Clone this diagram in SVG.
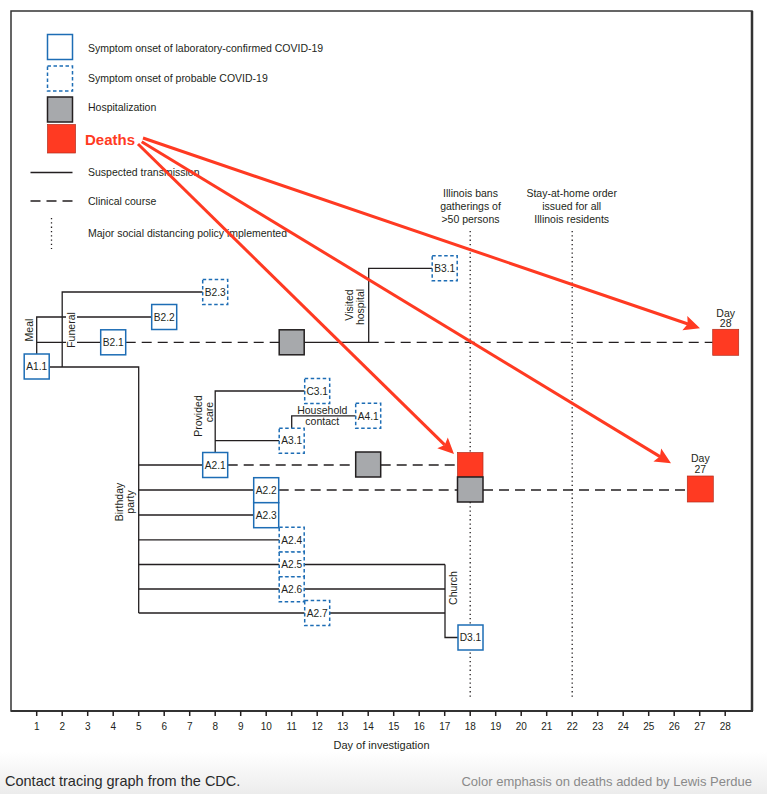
<svg xmlns="http://www.w3.org/2000/svg" width="767" height="794" viewBox="0 0 767 794">
<defs>
<linearGradient id="cap" x1="0" y1="0" x2="0" y2="1">
<stop offset="0" stop-color="#ffffff"/>
<stop offset="1" stop-color="#ececec"/>
</linearGradient>
<style>
text{font-family:"Liberation Sans",Arial,sans-serif;fill:#231f20}
.t{font-size:10.5px}
.n{font-size:10.2px;text-anchor:middle}
.m{text-anchor:middle}
.ln{stroke:#231f20;stroke-width:1.3;fill:none}
.ds{stroke:#231f20;stroke-width:1.3;fill:none;stroke-dasharray:10 6}
.dt{stroke:#231f20;stroke-width:1.3;fill:none;stroke-dasharray:1.3 3}
.cf{fill:#fff;stroke:#1d6db5;stroke-width:1.5}
.pr{fill:#fff;stroke:#1d6db5;stroke-width:1.5;stroke-dasharray:3.5 2.5}
.hs{fill:#a7a9ac;stroke:#231f20;stroke-width:1.5}
.de{fill:#ff3a22;stroke:#b32d1c;stroke-width:0.7}
.ar{stroke:#ff3a22;stroke-width:3;fill:none}
.ah{fill:#ff3a22}
</style>
</defs>
<rect x="0" y="0" width="767" height="794" fill="#fff"/>
<rect x="0" y="752" width="767" height="42" fill="url(#cap)"/>

<g id="frame">
<rect x="11" y="11" width="741" height="700" fill="none" stroke="#333" stroke-width="1.5"/>
<line x1="752" y1="11" x2="752" y2="711" stroke="#333" stroke-width="2.5"/>
<line x1="11" y1="711" x2="753" y2="711" stroke="#333" stroke-width="2"/>
</g>

<g id="legend">
<rect x="47.5" y="34.5" width="25" height="25" class="cf"/>
<text x="88" y="51.5" class="t">Symptom onset of laboratory-confirmed COVID-19</text>
<rect x="47.5" y="66" width="25" height="25" class="pr"/>
<text x="88" y="81.5" class="t">Symptom onset of probable COVID-19</text>
<rect x="47.5" y="97" width="25" height="25" class="hs"/>
<text x="88" y="111" class="t">Hospitalization</text>
<rect x="47.5" y="124.5" width="28" height="28.5" class="de"/>
<text x="85" y="145" style="font-size:15px;font-weight:bold;fill:#ff3a22">Deaths</text>
<line x1="30.5" y1="172.5" x2="72.5" y2="172.5" class="ln"/>
<text x="88" y="176" class="t">Suspected transmission</text>
<line x1="30.5" y1="201" x2="72.5" y2="201" class="ds"/>
<text x="88" y="204.5" class="t">Clinical course</text>
<line x1="51.5" y1="218" x2="51.5" y2="249" class="dt"/>
<text x="88" y="237" class="t">Major social distancing policy implemented</text>
</g>

<g id="connectors">
<path d="M36.7,354 V317 H151.7 M36.7,342.3 H100.7" class="ln"/>
<path d="M62.2,367 V292 H202.7 M49.2,367 H138.7 V613" class="ln"/>
<path d="M304.2,342.3 H368.7 V268.3 H432.2" class="ln"/>
<path d="M215.2,452.5 V391 H304.7 M215.2,440.7 H279.2" class="ln"/>
<path d="M291.7,428.2 V415.8 H355.7" class="ln"/>
<path d="M138.7,465 H202.7 M138.7,490 H253.7 M138.7,515 H253.7 M138.7,539.8 H279.2 M138.7,564.5 H279.2 M304.2,564.5 H445 M138.7,589 H279.2 M304.2,589 H445 M138.7,613 H304.7 M329.7,613 H445" class="ln"/>
<path d="M445,564.5 V637.5 H458" class="ln"/>
<path d="M125.7,342.3 H279.2 M368.7,342.3 H712.7" class="ds"/>
<path d="M227.7,465 H355.7 M380.7,465 H457.5" class="ds"/>
<path d="M278.7,490 H457.5 M483,490 H687.3" class="ds"/>
<line x1="470.2" y1="231" x2="470.2" y2="698" class="dt"/>
<line x1="572.2" y1="231" x2="572.2" y2="698" class="dt"/>
</g>

<g id="labels">
<rect x="66" y="311" width="11" height="38" fill="#fff"/>
<text transform="translate(29.5,330) rotate(-90)" y="3.6" class="t m">Meal</text>
<text transform="translate(71.5,330) rotate(-90)" y="3.6" class="t m">Funeral</text>
<text transform="translate(349.5,305) rotate(-90)" y="3.6" class="t m">Visited</text>
<text transform="translate(360.5,307) rotate(-90)" y="3.6" class="t m">hospital</text>
<text transform="translate(198.5,416) rotate(-90)" y="3.6" class="t m">Provided</text>
<text transform="translate(209.5,412) rotate(-90)" y="3.6" class="t m">care</text>
<text transform="translate(119.5,502) rotate(-90)" y="3.6" class="t m">Birthday</text>
<text transform="translate(130.5,502) rotate(-90)" y="3.6" class="t m">party</text>
<text transform="translate(453.5,588) rotate(-90)" y="3.6" class="t m">Church</text>
<text x="322.3" y="414" class="t m">Household</text>
<text x="322.3" y="425.3" class="t m">contact</text>
<text x="470.5" y="196.5" class="t m">Illinois bans</text>
<text x="470.5" y="209.5" class="t m">gatherings of</text>
<text x="470.5" y="223" class="t m">&gt;50 persons</text>
<text x="571.7" y="196.5" class="t m">Stay-at-home order</text>
<text x="571.7" y="209.5" class="t m">issued for all</text>
<text x="571.7" y="223" class="t m">Illinois residents</text>
<text x="725.7" y="316.5" class="t m">Day</text>
<text x="725.7" y="327" class="t m">28</text>
<text x="700.3" y="462" class="t m">Day</text>
<text x="700.3" y="472.5" class="t m">27</text>
</g>

<g id="A1.1"><rect x="24.2" y="354" width="25" height="25" class="cf"/><text x="36.7" y="370.2" class="n">A1.1</text></g>
<g id="B2.1"><rect x="100.7" y="329.8" width="25" height="25" class="cf"/><text x="113.2" y="346" class="n">B2.1</text></g>
<g id="B2.2"><rect x="151.7" y="304.5" width="25" height="25" class="cf"/><text x="164.2" y="320.7" class="n">B2.2</text></g>
<g id="B2.3"><rect x="202.7" y="279.5" width="25" height="25" class="pr"/><text x="215.2" y="295.7" class="n">B2.3</text></g>
<g id="hosp-B2.1"><rect x="279.2" y="329.8" width="25" height="25" class="hs"/></g>
<g id="B3.1"><rect x="432.2" y="255.8" width="25" height="25" class="pr"/><text x="444.7" y="272" class="n">B3.1</text></g>
<g id="death-B2.1"><rect x="712.7" y="329.3" width="26" height="26" class="de"/></g>
<g id="C3.1"><rect x="304.7" y="378.5" width="25" height="25" class="pr"/><text x="317.2" y="394.7" class="n">C3.1</text></g>
<g id="A4.1"><rect x="355.7" y="403.3" width="25" height="25" class="pr"/><text x="368.2" y="419.5" class="n">A4.1</text></g>
<g id="A3.1"><rect x="279.2" y="428.2" width="25" height="25" class="pr"/><text x="291.7" y="444.4" class="n">A3.1</text></g>
<g id="A2.1"><rect x="202.7" y="452.5" width="25" height="25" class="cf"/><text x="215.2" y="468.7" class="n">A2.1</text></g>
<g id="hosp-A2.1"><rect x="355.7" y="452" width="25" height="25" class="hs"/></g>
<g id="death-A2.1"><rect x="457.5" y="452.5" width="25.5" height="24.5" class="de"/></g>
<g id="hosp-A2.2"><rect x="457.5" y="477" width="25.5" height="25" class="hs"/></g>
<g id="A2.2"><rect x="253.7" y="477.7" width="25" height="25" class="cf"/><text x="266.2" y="493.9" class="n">A2.2</text></g>
<g id="A2.3"><rect x="253.7" y="502.7" width="25" height="25" class="cf"/><text x="266.2" y="518.9" class="n">A2.3</text></g>
<g id="A2.4"><rect x="279.2" y="527.3" width="25" height="25" class="pr"/><text x="291.7" y="543.5" class="n">A2.4</text></g>
<g id="A2.5"><rect x="279.2" y="552" width="25" height="25" class="pr"/><text x="291.7" y="568.2" class="n">A2.5</text></g>
<g id="A2.6"><rect x="279.2" y="576.7" width="25" height="25" class="pr"/><text x="291.7" y="592.9" class="n">A2.6</text></g>
<g id="A2.7"><rect x="304.7" y="600.5" width="25" height="25" class="pr"/><text x="317.2" y="616.7" class="n">A2.7</text></g>
<g id="D3.1"><rect x="458" y="625" width="25" height="25" class="cf"/><text x="470.5" y="641.2" class="n">D3.1</text></g>
<g id="death-A2.2"><rect x="687.3" y="476" width="26" height="26" class="de"/></g>

<g id="axis">
<path d="M36.7,711v5 M62.2,711v5 M87.7,711v5 M113.2,711v5 M138.7,711v5 M164.2,711v5 M189.7,711v5 M215.2,711v5 M240.7,711v5 M266.2,711v5 M291.7,711v5 M317.2,711v5 M342.7,711v5 M368.2,711v5 M393.7,711v5 M419.2,711v5 M444.7,711v5 M470.2,711v5 M495.7,711v5 M521.2,711v5 M546.7,711v5 M572.2,711v5 M597.7,711v5 M623.2,711v5 M648.7,711v5 M674.2,711v5 M699.7,711v5 M725.2,711v5" stroke="#231f20" stroke-width="1.5"/>
<g style="font-size:10px;text-anchor:middle">
<text x="36.7" y="730">1</text><text x="62.2" y="730">2</text><text x="87.7" y="730">3</text><text x="113.2" y="730">4</text><text x="138.7" y="730">5</text><text x="164.2" y="730">6</text><text x="189.7" y="730">7</text><text x="215.2" y="730">8</text><text x="240.7" y="730">9</text><text x="266.2" y="730">10</text><text x="291.7" y="730">11</text><text x="317.2" y="730">12</text><text x="342.7" y="730">13</text><text x="368.2" y="730">14</text><text x="393.7" y="730">15</text><text x="419.2" y="730">16</text><text x="444.7" y="730">17</text><text x="470.2" y="730">18</text><text x="495.7" y="730">19</text><text x="521.2" y="730">20</text><text x="546.7" y="730">21</text><text x="572.2" y="730">22</text><text x="597.7" y="730">23</text><text x="623.2" y="730">24</text><text x="648.7" y="730">25</text><text x="674.2" y="730">26</text><text x="699.7" y="730">27</text><text x="725.2" y="730">28</text>
</g>
<text x="381.5" y="749" class="m" style="font-size:11px">Day of investigation</text>
</g>

<g id="emphasis">
<line x1="143" y1="138" x2="688" y2="324" class="ar"/>
<polygon points="700,328.3 682.4,330.2 687.7,324.1 687.3,316" class="ah"/>
<line x1="141.7" y1="141.7" x2="660" y2="456.6" class="ar"/>
<polygon points="671,463.3 653.4,461.4 659.9,456.6 661.2,448.6" class="ah"/>
<line x1="138" y1="144" x2="444.7" y2="444.9" class="ar"/>
<polygon points="454,454 437.3,448.2 444.7,444.9 447.8,437.5" class="ah"/>
</g>

<g id="caption">
<text x="5" y="786" style="font-size:14.5px;fill:#2a2a2a">Contact tracing graph from the CDC.</text>
<text x="752" y="786" style="font-size:13px;fill:#8a8a8a;text-anchor:end">Color emphasis on deaths added by Lewis Perdue</text>
</g>
</svg>
